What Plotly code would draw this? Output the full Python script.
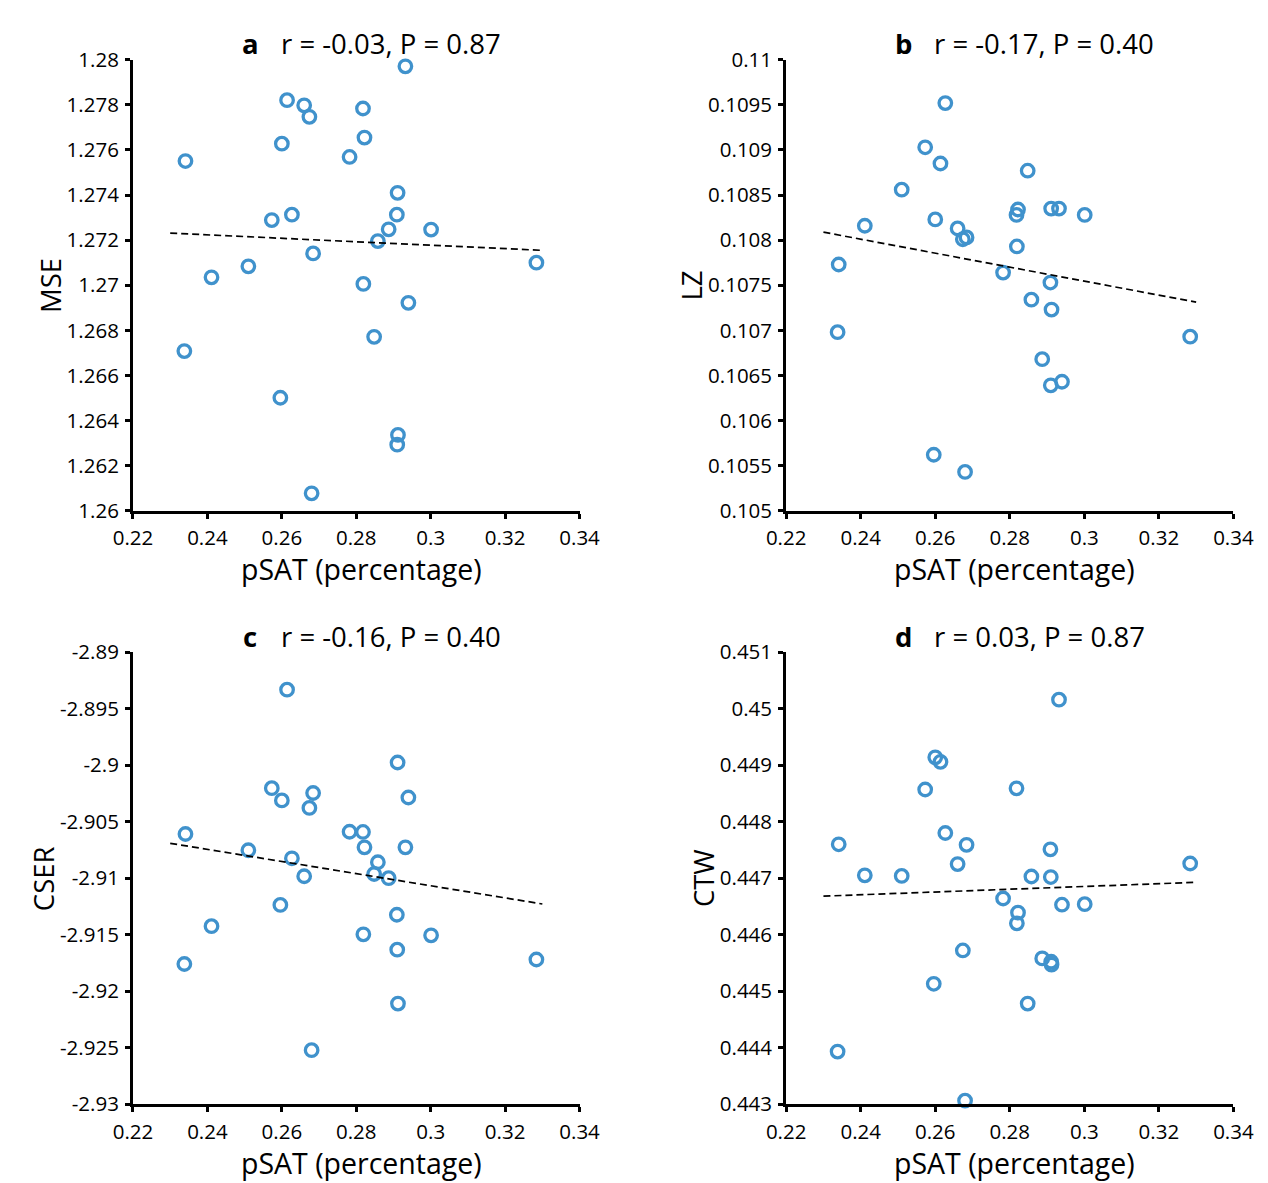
import numpy as np
import plotly.graph_objects as go

W, H = 1268, 1183

# ---------------- data ----------------
psat = [0.2338, 0.2341, 0.2411, 0.2510, 0.2573, 0.2596, 0.2600, 0.2614, 0.2627, 0.2660,
        0.2674, 0.2680, 0.2684, 0.2782, 0.2818, 0.2819, 0.2822, 0.2848, 0.2858, 0.2887,
        0.2909, 0.2910, 0.2911, 0.2912, 0.2932, 0.2940, 0.3001, 0.3284]

mse = [1.26708, 1.27551, 1.27035, 1.27084, 1.27289, 1.26501, 1.27628, 1.27821, 1.27313, 1.27798,
       1.27747, 1.26077, 1.27141, 1.27569, 1.27784, 1.27006, 1.27655, 1.26771, 1.27196, 1.27248,
       1.27313, 1.26293, 1.27410, 1.26336, 1.27971, 1.26922, 1.27247, 1.27100]

lz = [0.10698, 0.10773, 0.10816, 0.10856, 0.10903, 0.10562, 0.10823, 0.10885, 0.10952, 0.10813,
      0.10801, 0.10543, 0.10803, 0.10764, 0.10828, 0.10793, 0.10834, 0.10877, 0.10734, 0.10668,
      0.10753, 0.10639, 0.10835, 0.10723, 0.10835, 0.10643, 0.10828, 0.10693]

cser = [-2.91760, -2.90609, -2.91425, -2.90753, -2.90203, -2.91237, -2.90312, -2.89331, -2.90824, -2.90983,
        -2.90378, -2.92523, -2.90246, -2.90589, -2.90591, -2.91497, -2.90727, -2.90963, -2.90859, -2.91000,
        -2.91324, -2.91633, -2.89976, -2.92110, -2.90727, -2.90286, -2.91506, -2.91720]

ctw = [0.44393, 0.44760, 0.44705, 0.44704, 0.44857, 0.44513, 0.44914, 0.44906, 0.44780, 0.44725,
       0.44572, 0.44306, 0.44759, 0.44664, 0.44859, 0.44620, 0.44639, 0.44478, 0.44703, 0.44558,
       0.44751, 0.44702, 0.44552, 0.44547, 0.45016, 0.44653, 0.44654, 0.44726]

fit_x = [0.23, 0.33]

panel_letters = ["a", "b", "c", "d"]
panel_stats = ["r = -0.03, P = 0.87", "r = -0.17, P = 0.40",
               "r = -0.16, P = 0.40", "r = 0.03, P = 0.87"]
y_titles = ["MSE", "LZ", "CSER", "CTW"]
x_title = "pSAT (percentage)"

x_tickvals = [0.22, 0.24, 0.26, 0.28, 0.30, 0.32, 0.34]
x_ticktext = ["0.22", "0.24", "0.26", "0.28", "0.3", "0.32", "0.34"]

mse_tickvals = [1.26, 1.262, 1.264, 1.266, 1.268, 1.27, 1.272, 1.274, 1.276, 1.278, 1.28]
mse_ticktext = ["1.26", "1.262", "1.264", "1.266", "1.268", "1.27", "1.272", "1.274", "1.276", "1.278", "1.28"]

lz_tickvals = [0.105, 0.1055, 0.106, 0.1065, 0.107, 0.1075, 0.108, 0.1085, 0.109, 0.1095, 0.11]
lz_ticktext = ["0.105", "0.1055", "0.106", "0.1065", "0.107", "0.1075", "0.108", "0.1085", "0.109", "0.1095", "0.11"]

cser_tickvals = [-2.93, -2.925, -2.92, -2.915, -2.91, -2.905, -2.9, -2.895, -2.89]
cser_ticktext = ["-2.93", "-2.925", "-2.92", "-2.915", "-2.91", "-2.905", "-2.9", "-2.895", "-2.89"]

ctw_tickvals = [0.443, 0.444, 0.445, 0.446, 0.447, 0.448, 0.449, 0.45, 0.451]
ctw_ticktext = ["0.443", "0.444", "0.445", "0.446", "0.447", "0.448", "0.449", "0.45", "0.451"]

# ---------------- style ----------------
FONT = "Open Sans"
MARKER_COLOR = "rgb(64,146,204)"
TICK_SIZE = 20.5
TITLE_SIZE = 27.5
XTITLE_SIZE = 28.5
YTITLE_SIZE = 27.5

series = [mse, lz, cser, ctw]
ytickvals = [mse_tickvals, lz_tickvals, cser_tickvals, ctw_tickvals]
yticktext = [mse_ticktext, lz_ticktext, cser_ticktext, ctw_ticktext]
ytitle_offset = [85, 98, 93, 86]

def px_x(p):
    return p / W

def px_y(p):
    return 1 - p / H

# plot-area pixel boxes (left, right, top, bottom)
boxes = [
    (108.5, 570.0, 37.7, 499.5),
    (783.5, 1245.7, 37.7, 499.5),
    (108.5, 570.0, 644.5, 1107.3),
    (783.5, 1245.7, 644.5, 1107.3),
]

fig = go.Figure()
annotations = []

for i in range(4):
    xa = "x" if i == 0 else f"x{i+1}"
    ya = "y" if i == 0 else f"y{i+1}"
    ys = series[i]
    fig.add_trace(go.Scatter(
        x=psat, y=ys, mode="markers", xaxis=xa, yaxis=ya,
        marker=dict(symbol="circle-open", size=12.5, color=MARKER_COLOR,
                    line=dict(width=3.3, color=MARKER_COLOR)),
        cliponaxis=False, showlegend=False, hoverinfo="x+y"))
    slope, intercept = np.polyfit(np.array(psat), np.array(ys), 1)
    fx = np.array(fit_x)
    fig.add_trace(go.Scatter(
        x=fx, y=slope * fx + intercept, mode="lines", xaxis=xa, yaxis=ya,
        line=dict(color="black", width=1.7, dash="7px,4px"),
        showlegend=False, hoverinfo="skip"))

    l, r, t, b = boxes[i]
    w = r - l
    axis_common = dict(showline=True, linecolor="black", linewidth=3,
                       ticks="outside", ticklen=5, tickwidth=2.5, tickcolor="black",
                       showgrid=False, zeroline=False, ticklabelstandoff=2,
                       tickfont=dict(family=FONT, size=TICK_SIZE, color="black"))
    xkey = "xaxis" if i == 0 else f"xaxis{i+1}"
    ykey = "yaxis" if i == 0 else f"yaxis{i+1}"
    fig.update_layout(**{
        xkey: dict(domain=[px_x(l), px_x(r)], anchor=ya, range=[0.22, 0.34],
                   tickvals=x_tickvals, ticktext=x_ticktext, **axis_common),
        ykey: dict(domain=[px_y(b), px_y(t)], anchor=xa,
                   range=[ytickvals[i][0], ytickvals[i][-1]],
                   tickvals=ytickvals[i], ticktext=yticktext[i], **axis_common),
    })

    # title: bold letter + stats
    ty = t - 16.3
    annotations.append(dict(xref="paper", yref="paper", x=px_x(l + 0.263 * w), y=px_y(ty),
                            text=f"<b>{panel_letters[i]}</b>", showarrow=False,
                            xanchor="center", yanchor="middle",
                            font=dict(family=FONT, size=TITLE_SIZE, color="black")))
    annotations.append(dict(xref="paper", yref="paper", x=px_x(l + 0.327 * w), y=px_y(ty),
                            text=panel_stats[i], showarrow=False,
                            xanchor="left", yanchor="middle",
                            font=dict(family=FONT, size=TITLE_SIZE, color="black")))
    # x-axis title
    annotations.append(dict(xref="paper", yref="paper", x=px_x(l + 0.511 * w), y=px_y(b + 60),
                            text=x_title, showarrow=False,
                            xanchor="center", yanchor="middle",
                            font=dict(family=FONT, size=XTITLE_SIZE, color="black")))
    # y-axis title
    annotations.append(dict(xref="paper", yref="paper", x=px_x(l - ytitle_offset[i]),
                            y=px_y((t + b) / 2),
                            text=y_titles[i], showarrow=False, textangle=-90,
                            xanchor="center", yanchor="middle",
                            font=dict(family=FONT, size=YTITLE_SIZE, color="black")))

fig.update_layout(width=W, height=H, margin=dict(l=0, r=0, t=0, b=0),
                  paper_bgcolor="white", plot_bgcolor="white",
                  annotations=annotations, showlegend=False)

fig.write_html("out.html")
